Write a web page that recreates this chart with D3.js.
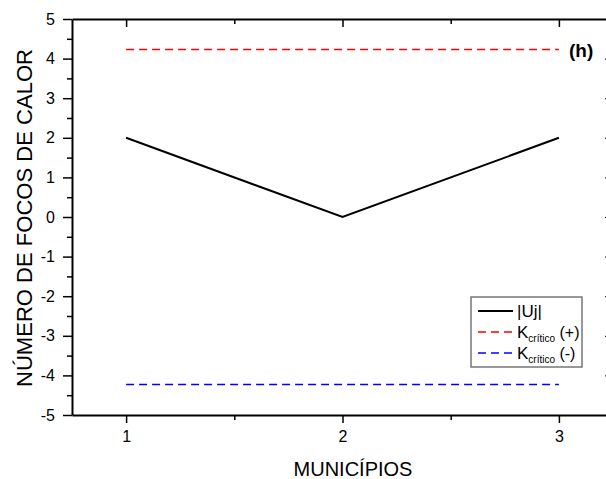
<!DOCTYPE html>
<html>
<head>
<meta charset="utf-8">
<script src="https://cdn.jsdelivr.net/npm/d3@7"></script>
<style>
  body { margin: 0; background: #fff; }
  svg, svg text { font-family: "Liberation Sans", Arial, sans-serif; }
  .axis path, .axis line { stroke: #000; }
  .axis text { font-size: 16px; fill: #000; font-family: "Liberation Sans", Arial, sans-serif; }
</style>
</head>
<body>
<div id="chart"></div>
<script>
// data
const municipios = [1, 2, 3];
const ujValues = [2, 0, 2];
const kCriticoPos = 4.23;
const kCriticoNeg = -4.23;
const yTicks = [-5, -4, -3, -2, -1, 0, 1, 2, 3, 4, 5];
const xTicks = [1, 2, 3];

const width = 606;
const height = 479;

const svg = d3.select("#chart").append("svg")
  .attr("width", width)
  .attr("height", height);

const xScale = d3.scaleLinear().domain([0.75, 3.25]).range([72, 613]);
const yScale = d3.scaleLinear().domain([-5, 5]).range([415, 19]);

const [x0, x1] = xScale.range();
const [y0, y1] = yScale.range();

// plain hyphen for negatives, like the original
const plainFormat = (d) => String(d);

// left axis (ticks outward) + minor ticks
svg.append("g")
  .attr("class", "axis")
  .attr("transform", `translate(${x0},0)`)
  .call(d3.axisLeft(yScale).tickValues(yTicks).tickSize(9).tickPadding(8).tickFormat(plainFormat).tickSizeOuter(0))
  .call((g) => g.select(".domain").attr("stroke-width", 2))
  .call((g) => g.selectAll("line").attr("stroke-width", 1.5));

svg.append("g")
  .attr("class", "axis")
  .attr("transform", `translate(${x0},0)`)
  .call(d3.axisLeft(yScale).tickValues(yTicks.slice(0, -1).map((v) => v + 0.5)).tickSize(5).tickFormat("").tickSizeOuter(0))
  .call((g) => g.select(".domain").remove())
  .selectAll("line").attr("stroke-width", 1.5);

// right axis (ticks inward, mostly off screen)
svg.append("g")
  .attr("class", "axis")
  .attr("transform", `translate(${x1},0)`)
  .call(d3.axisLeft(yScale).tickValues(yTicks).tickSize(8).tickFormat("").tickSizeOuter(0))
  .call((g) => g.select(".domain").attr("stroke-width", 2));

// bottom axis (ticks outward)
svg.append("g")
  .attr("class", "axis")
  .attr("transform", `translate(0,${y0})`)
  .call(d3.axisBottom(xScale).tickValues(xTicks).tickSize(8).tickPadding(8).tickFormat(plainFormat).tickSizeOuter(0))
  .call((g) => g.select(".domain").attr("stroke-width", 2))
  .selectAll("line").attr("stroke-width", 1.5);

svg.append("g")
  .attr("class", "axis")
  .attr("transform", `translate(0,${y0})`)
  .call(d3.axisBottom(xScale).tickValues([1.5, 2.5]).tickSize(5).tickFormat("").tickSizeOuter(0))
  .call((g) => g.select(".domain").remove())
  .selectAll("line").attr("stroke-width", 1.5);

// top axis (ticks inward)
svg.append("g")
  .attr("class", "axis")
  .attr("transform", `translate(0,${y1})`)
  .call(d3.axisBottom(xScale).tickValues(xTicks).tickSize(8).tickFormat("").tickSizeOuter(0))
  .call((g) => g.select(".domain").attr("stroke-width", 2))
  .selectAll("line").attr("stroke-width", 1.5);

svg.append("g")
  .attr("class", "axis")
  .attr("transform", `translate(0,${y1})`)
  .call(d3.axisBottom(xScale).tickValues([1.5, 2.5]).tickSize(5).tickFormat("").tickSizeOuter(0))
  .call((g) => g.select(".domain").remove())
  .selectAll("line").attr("stroke-width", 1.5);

// critical lines
const xFirst = municipios[0];
const xLast = municipios[municipios.length - 1];

svg.append("line")
  .attr("x1", xScale(xFirst)).attr("x2", xScale(xLast))
  .attr("y1", yScale(kCriticoPos)).attr("y2", yScale(kCriticoPos))
  .attr("stroke", "#ff0000").attr("stroke-width", 1.6)
  .attr("stroke-dasharray", "8,5");

svg.append("line")
  .attr("x1", xScale(xFirst)).attr("x2", xScale(xLast))
  .attr("y1", yScale(kCriticoNeg)).attr("y2", yScale(kCriticoNeg))
  .attr("stroke", "#0000ff").attr("stroke-width", 1.6)
  .attr("stroke-dasharray", "8,5");

// |Uj| line
const line = d3.line()
  .x((d, i) => xScale(municipios[i]))
  .y((d) => yScale(d));

svg.append("path")
  .datum(ujValues)
  .attr("d", line)
  .attr("fill", "none")
  .attr("stroke", "#000")
  .attr("stroke-width", 2);

// axis titles
svg.append("text")
  .attr("transform", "translate(32,218) rotate(-90)")
  .attr("text-anchor", "middle")
  .attr("font-size", 22)
  .attr("textLength", 338)
  .attr("lengthAdjust", "spacingAndGlyphs")
  .text("NÚMERO DE FOCOS DE CALOR");

svg.append("text")
  .attr("x", 353)
  .attr("y", 476)
  .attr("text-anchor", "middle")
  .attr("font-size", 20)
  .text("MUNICÍPIOS");

// panel tag
svg.append("text")
  .attr("x", 569)
  .attr("y", 57)
  .attr("font-size", 19)
  .attr("font-weight", "bold")
  .text("(h)");

// legend
const legend = svg.append("g").attr("transform", "translate(471,297)");
legend.append("rect")
  .attr("width", 111).attr("height", 70)
  .attr("fill", "#fff").attr("stroke", "#777").attr("stroke-width", 1.5);

const legendItems = [
  { color: "#000", dash: null, label: "|Uj|", sub: null, tail: null },
  { color: "#ff0000", dash: "8,5", label: "K", sub: "crítico", tail: " (+)" },
  { color: "#0000ff", dash: "8,5", label: "K", sub: "crítico", tail: " (-)" },
];

legendItems.forEach((item, i) => {
  const cy = 14 + i * 21;
  legend.append("line")
    .attr("x1", 7).attr("x2", 42)
    .attr("y1", cy).attr("y2", cy)
    .attr("stroke", item.color)
    .attr("stroke-width", item.dash ? 1.6 : 2)
    .attr("stroke-dasharray", item.dash);
  const t = legend.append("text")
    .attr("x", 46).attr("y", cy + 6)
    .attr("font-size", 17);
  t.append("tspan").text(item.label);
  if (item.sub) {
    t.append("tspan").attr("font-size", 10).attr("dy", 4).text(item.sub);
    t.append("tspan").attr("dy", -4).attr("font-size", 16).text(item.tail);
  }
});
</script>
</body>
</html>
